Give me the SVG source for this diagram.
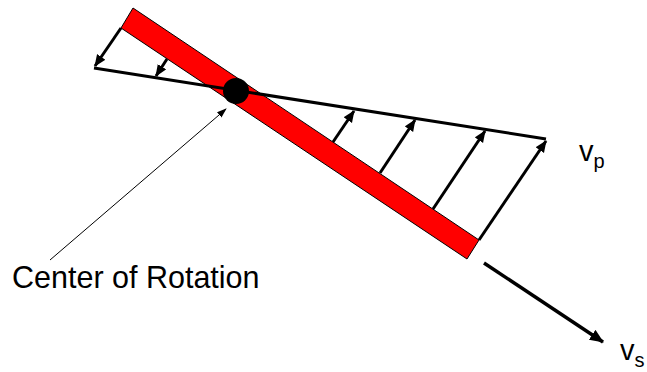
<svg xmlns="http://www.w3.org/2000/svg" width="647" height="372" viewBox="0 0 647 372">
  <style>
    .lbl { font-family: "Liberation Sans", Arial, sans-serif; fill: #000; }
    .thick { stroke: #000; stroke-width: 3; fill: none; }
  </style>
  <defs>
    <marker id="ah" markerUnits="userSpaceOnUse" markerWidth="14" markerHeight="12" refX="11" refY="5" orient="auto">
      <path d="M0,0 L12,5 L0,10 z" fill="#000"/>
    </marker>
    <marker id="ahBig" markerUnits="userSpaceOnUse" markerWidth="16" markerHeight="14" refX="13" refY="6" orient="auto">
      <path d="M0,0 L14,6 L0,12 z" fill="#000"/>
    </marker>
    <marker id="ahSmall" markerUnits="userSpaceOnUse" markerWidth="10" markerHeight="8" refX="9" refY="3.5" orient="auto">
      <path d="M0,0 L10,3.5 L0,7 z" fill="#000"/>
    </marker>
  </defs>
  <rect width="647" height="372" fill="#fff"/>
  <g id="bar">
    <polygon points="133,8 479,240 467,259 121,28" fill="#ff0000" stroke="#000" stroke-width="1"/>
  </g>
  <g id="connectors">
    <line class="thick" x1="94" y1="68" x2="546" y2="139"/>
    <line class="thick" x1="121" y1="28" x2="95" y2="66" marker-end="url(#ah)"/>
    <line class="thick" x1="167" y1="59" x2="156" y2="76" marker-end="url(#ah)"/>
    <line class="thick" x1="333" y1="142" x2="354" y2="111" marker-end="url(#ah)"/>
    <line class="thick" x1="380" y1="173" x2="415" y2="120" marker-end="url(#ah)"/>
    <line class="thick" x1="433" y1="209" x2="485" y2="131" marker-end="url(#ah)"/>
    <line class="thick" x1="479" y1="240" x2="546" y2="141" marker-end="url(#ah)"/>
    <line x1="484" y1="263" x2="603" y2="342" stroke="#000" stroke-width="3.5" marker-end="url(#ahBig)"/>
    <line x1="50" y1="260" x2="226" y2="109" stroke="#000" stroke-width="1" marker-end="url(#ahSmall)"/>
  </g>
  <g id="center">
    <circle cx="236" cy="91" r="13" fill="#000"/>
  </g>
  <g id="label-center">
    <text class="lbl" x="12" y="288" font-size="30.5">Center of Rotation</text>
  </g>
  <g id="label-vp">
    <text class="lbl" x="579" y="161" font-size="29">v<tspan font-size="20" dy="7">p</tspan></text>
  </g>
  <g id="label-vs">
    <text class="lbl" x="620" y="360" font-size="29">v<tspan font-size="20" dy="7">s</tspan></text>
  </g>
</svg>
